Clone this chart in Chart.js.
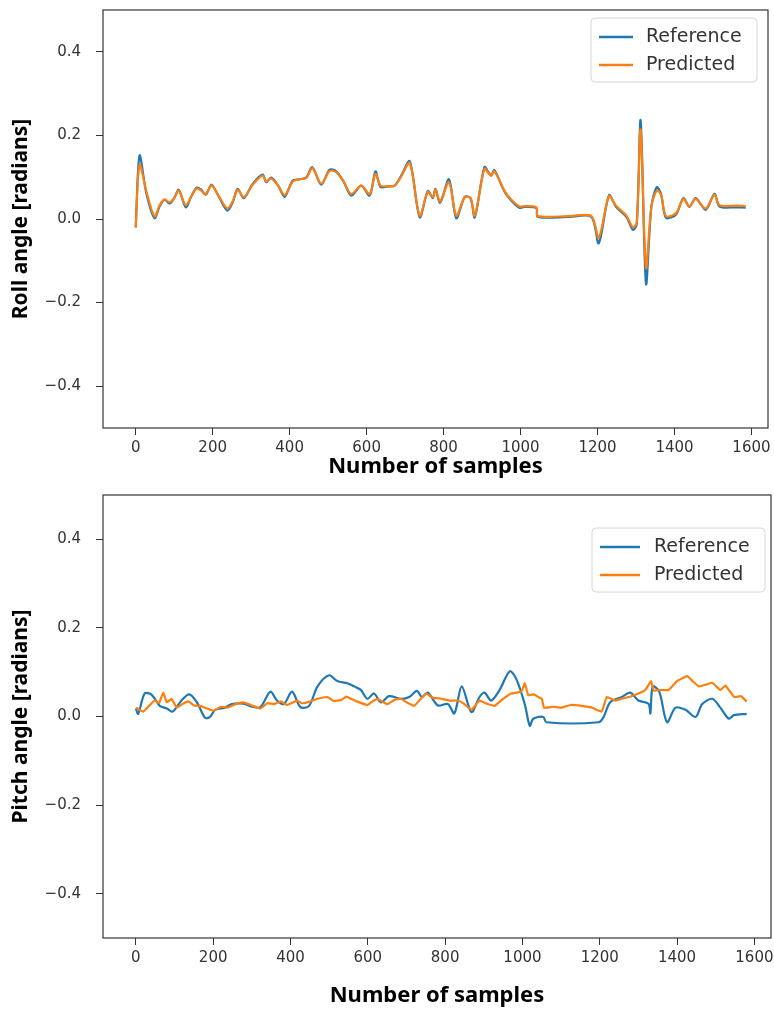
<!DOCTYPE html>
<html lang="en">
<head>
    <meta charset="UTF-8">
    <title>Roll / Pitch angle</title>
    <script src="https://cdn.jsdelivr.net/npm/chart.js"></script>
    <style>
        body { margin: 0; background: #fff; }
        .box { position: absolute; left: 0; width: 774px; }
        #top { top: 0; height: 480px; }
        #bottom { top: 480px; height: 529px; }
    </style>
</head>
<body>
    <div class="box" id="top"><canvas id="rollCanvas" width="774" height="480"></canvas></div>
    <div class="box" id="bottom"><canvas id="pitchCanvas" width="774" height="529"></canvas></div>

    <script>
        // ---- dados ----
        const xTicks = [0, 200, 400, 600, 800, 1000, 1200, 1400, 1600];
        const yTicks = [-0.4, -0.2, 0.0, 0.2, 0.4];

        // roll
        const rollSamples = [0, 10, 28, 49, 62, 75, 88, 100, 112, 130, 145, 158, 170, 182, 197, 215, 238, 252, 265, 281, 304, 330, 339, 352, 370, 387, 408, 425, 443, 459, 482, 504, 521, 540, 560, 586, 608, 623, 636, 655, 673, 690, 712, 738, 759, 772, 779, 791, 814, 833, 855, 870, 881, 906, 918, 924, 932, 958, 975, 997, 1010, 1041, 1045, 1127, 1184, 1203, 1230, 1248, 1275, 1292, 1302, 1312, 1326, 1340, 1354, 1365, 1378, 1404, 1423, 1439, 1455, 1481, 1504, 1517, 1560, 1585];
        const rollReference = [-0.02, 0.152, 0.06, 0.002, 0.03, 0.046, 0.037, 0.05, 0.07, 0.028, 0.055, 0.075, 0.07, 0.058, 0.082, 0.055, 0.02, 0.04, 0.072, 0.05, 0.084, 0.106, 0.088, 0.099, 0.08, 0.053, 0.092, 0.095, 0.099, 0.124, 0.082, 0.118, 0.114, 0.09, 0.056, 0.08, 0.056, 0.114, 0.077, 0.078, 0.08, 0.104, 0.138, 0.004, 0.067, 0.05, 0.072, 0.039, 0.095, 0.002, 0.053, 0.05, 0.004, 0.124, 0.11, 0.104, 0.117, 0.066, 0.045, 0.027, 0.029, 0.026, 0.005, 0.005, 0.005, -0.058, 0.057, 0.029, 0.005, -0.026, -0.012, 0.236, -0.155, 0.03, 0.076, 0.06, 0.003, 0.011, 0.05, 0.029, 0.05, 0.022, 0.06, 0.03, 0.028, 0.027];
        const rollPredicted = [-0.02, 0.13, 0.065, 0.006, 0.033, 0.047, 0.04, 0.05, 0.068, 0.033, 0.055, 0.073, 0.068, 0.06, 0.08, 0.056, 0.025, 0.042, 0.07, 0.052, 0.082, 0.104, 0.09, 0.097, 0.08, 0.057, 0.09, 0.095, 0.098, 0.122, 0.085, 0.115, 0.112, 0.09, 0.06, 0.08, 0.06, 0.108, 0.08, 0.078, 0.08, 0.102, 0.134, 0.008, 0.065, 0.052, 0.07, 0.042, 0.088, 0.008, 0.052, 0.05, 0.008, 0.12, 0.108, 0.104, 0.114, 0.068, 0.047, 0.03, 0.031, 0.028, 0.007, 0.007, 0.007, -0.045, 0.055, 0.032, 0.008, -0.02, -0.008, 0.214, -0.117, 0.03, 0.068, 0.058, 0.007, 0.014, 0.048, 0.03, 0.048, 0.025, 0.058, 0.033, 0.032, 0.031];

        // pitch
        const pitchRefSamples = [0, 6, 23, 41, 62, 80, 95, 119, 138, 158, 179, 192, 205, 230, 248, 279, 300, 322, 348, 365, 383, 404, 426, 448, 470, 500, 521, 547, 565, 582, 599, 616, 634, 655, 686, 707, 727, 740, 755, 781, 807, 824, 843, 868, 889, 902, 919, 941, 967, 984, 1006, 1019, 1028, 1054, 1062, 1197, 1210, 1227, 1257, 1279, 1300, 1326, 1331, 1337, 1354, 1374, 1396, 1422, 1448, 1465, 1491, 1512, 1534, 1547, 1580];
        const pitchReference = [0.018, 0.006, 0.052, 0.049, 0.024, 0.018, 0.011, 0.037, 0.05, 0.032, -0.003, -0.001, 0.015, 0.02, 0.028, 0.029, 0.022, 0.021, 0.056, 0.036, 0.028, 0.056, 0.021, 0.024, 0.068, 0.093, 0.08, 0.075, 0.068, 0.06, 0.04, 0.052, 0.032, 0.046, 0.04, 0.044, 0.058, 0.044, 0.054, 0.025, 0.028, 0.007, 0.068, 0.01, 0.044, 0.054, 0.036, 0.06, 0.102, 0.085, 0.028, -0.021, -0.005, -0.001, -0.013, -0.013, -0.001, 0.032, 0.044, 0.054, 0.036, 0.029, 0.007, 0.068, 0.056, -0.013, 0.02, 0.015, -0.001, 0.028, 0.04, 0.02, -0.005, 0.003, 0.006];
        const pitchPredSamples = [0, 19, 35, 49, 60, 71, 80, 92, 106, 120, 136, 150, 166, 184, 201, 220, 236, 258, 279, 300, 322, 340, 357, 375, 391, 417, 430, 443, 470, 495, 512, 530, 545, 556, 575, 599, 612, 625, 640, 651, 670, 686, 700, 720, 735, 751, 766, 790, 810, 833, 850, 868, 889, 905, 928, 950, 971, 997, 1006, 1015, 1030, 1041, 1050, 1056, 1080, 1101, 1125, 1153, 1180, 1205, 1218, 1240, 1257, 1280, 1300, 1318, 1333, 1340, 1352, 1378, 1400, 1426, 1440, 1456, 1475, 1491, 1512, 1525, 1548, 1565, 1580];
        const pitchPredicted = [0.02, 0.011, 0.025, 0.036, 0.03, 0.054, 0.032, 0.04, 0.02, 0.028, 0.034, 0.025, 0.024, 0.018, 0.013, 0.022, 0.02, 0.028, 0.032, 0.025, 0.018, 0.03, 0.028, 0.034, 0.026, 0.036, 0.03, 0.032, 0.04, 0.044, 0.035, 0.037, 0.045, 0.04, 0.033, 0.026, 0.034, 0.04, 0.032, 0.028, 0.038, 0.04, 0.032, 0.024, 0.038, 0.052, 0.043, 0.04, 0.036, 0.036, 0.028, 0.015, 0.036, 0.03, 0.024, 0.04, 0.052, 0.056, 0.075, 0.048, 0.05, 0.044, 0.04, 0.02, 0.022, 0.02, 0.026, 0.024, 0.02, 0.011, 0.044, 0.036, 0.04, 0.045, 0.052, 0.06, 0.08, 0.058, 0.06, 0.06, 0.08, 0.091, 0.08, 0.068, 0.072, 0.076, 0.06, 0.07, 0.044, 0.046, 0.034];

        const azul = '#1f77b4';
        const laranja = '#ff7f0e';

        function pontos(xs, ys) {
            return xs.map((x, i) => ({ x: x, y: ys[i] }));
        }

        // moldura + legenda no estilo matplotlib
        function molduraPlugin(leg) {
            return {
                id: 'moldura',
                afterDraw(chart) {
                    const ctx = chart.ctx;
                    const a = chart.chartArea;
                    ctx.save();
                    ctx.strokeStyle = '#333';
                    ctx.lineWidth = 1.2;
                    ctx.strokeRect(a.left, a.top, a.right - a.left, a.bottom - a.top);

                    const bx = a.right - leg.w - leg.dx;
                    const by = a.top + leg.dy;
                    ctx.beginPath();
                    ctx.roundRect(bx, by, leg.w, leg.h, 4);
                    ctx.fillStyle = 'rgba(255,255,255,0.85)';
                    ctx.fill();
                    ctx.strokeStyle = '#d6d6d6';
                    ctx.lineWidth = 1;
                    ctx.stroke();

                    ctx.font = '19px "DejaVu Sans"';
                    ctx.textBaseline = 'middle';
                    chart.data.datasets.forEach((ds, i) => {
                        const y = by + 19 + i * 28;
                        ctx.strokeStyle = ds.borderColor;
                        ctx.lineWidth = 2.5;
                        ctx.beginPath();
                        ctx.moveTo(bx + 8, y);
                        ctx.lineTo(bx + 8 + leg.linha, y);
                        ctx.stroke();
                        ctx.fillStyle = '#333';
                        ctx.fillText(ds.label, bx + leg.texto, y);
                    });
                    ctx.restore();
                }
            };
        }

        function semPadding(s) {
            s.paddingLeft = 0; s.paddingRight = 0; s.paddingTop = 0; s.paddingBottom = 0;
        }

        function criarGrafico(id, titulo, dsRef, dsPred, cfg) {
            const config = {
                type: 'line',
                data: {
                    datasets: [
                        { label: 'Reference', data: dsRef, order: 1, borderColor: azul, backgroundColor: azul, borderWidth: 2.2, pointRadius: 0, tension: 0.3, fill: false },
                        { label: 'Predicted', data: dsPred, order: 0, borderColor: laranja, backgroundColor: laranja, borderWidth: 2.2, pointRadius: 0, tension: cfg.tensaoPred, fill: false }
                    ]
                },
                options: {
                    responsive: false,
                    animation: false,
                    layout: { padding: { top: cfg.padTop, right: cfg.padRight, left: 0, bottom: 0 } },
                    plugins: { legend: { display: false }, tooltip: { enabled: false } },
                    scales: {
                        x: {
                            type: 'linear',
                            min: -85,
                            max: 1643,
                            afterBuildTicks: s => { s.ticks = xTicks.map(v => ({ value: v })); },
                            afterFit: s => { s.height = cfg.xHeight; semPadding(s); },
                            grid: { drawOnChartArea: false, tickLength: 7, color: '#333' },
                            border: { display: false },
                            ticks: { color: '#333', padding: 4, maxRotation: 0, font: { family: 'DejaVu Sans', size: 15 }, callback: v => String(v) },
                            title: { display: true, text: 'Number of samples', color: '#000', padding: { top: 0, bottom: cfg.xTitlePad }, font: { family: 'Noto Sans', size: 22, weight: 'bold' } }
                        },
                        y: {
                            min: -0.5,
                            max: 0.5,
                            afterBuildTicks: s => { s.ticks = yTicks.map(v => ({ value: v })); },
                            afterFit: s => { s.width = 103; semPadding(s); },
                            grid: { drawOnChartArea: false, tickLength: 7, color: '#333' },
                            border: { display: false },
                            ticks: {
                                color: '#333', padding: 15, font: { family: 'DejaVu Sans', size: 15 },
                                callback: v => (v < 0 ? '\u2212' + Math.abs(v).toFixed(1) : v.toFixed(1))
                            },
                            title: { display: true, text: titulo, color: '#000', padding: { top: 8, bottom: 0 }, font: { family: 'Noto Sans', size: 21, weight: 'bold' } }
                        }
                    }
                },
                plugins: [molduraPlugin(cfg.leg)]
            };
            return new Chart(document.getElementById(id).getContext('2d'), config);
        }

        criarGrafico('rollCanvas', 'Roll angle [radians]',
            pontos(rollSamples, rollReference), pontos(rollSamples, rollPredicted),
            { padTop: 10, padRight: 6, xHeight: 52, xTitlePad: 0, tensaoPred: 0.3, leg: { w: 166, h: 64, dx: 11, dy: 8, linha: 34, texto: 55 } });

        criarGrafico('pitchCanvas', 'Pitch angle [radians]',
            pontos(pitchRefSamples, pitchReference), pontos(pitchPredSamples, pitchPredicted),
            { padTop: 15, padRight: 3, xHeight: 71, xTitlePad: 0, tensaoPred: 0.1, leg: { w: 173, h: 64, dx: 6, dy: 33, linha: 40, texto: 62 } });
    </script>
</body>
</html>
